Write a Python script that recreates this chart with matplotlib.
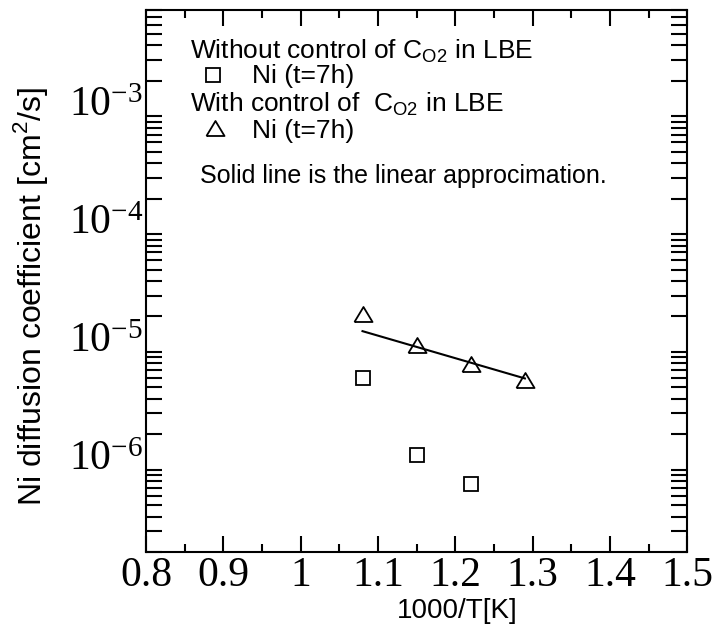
import numpy as np
import matplotlib
matplotlib.use('Agg')
import matplotlib.pyplot as plt
from matplotlib.ticker import LogLocator, MultipleLocator, NullFormatter

# data
x_no = [1.08, 1.15, 1.22]
d_no = [6.05e-6, 1.33e-6, 7.6e-7]
x_ctrl = [1.08, 1.15, 1.22, 1.29]
d_ctrl = [2.09e-5, 1.15e-5, 7.96e-6, 5.8e-6]
fit_x = [1.08, 1.29]
fit_d = [1.50e-5, 5.95e-6]

xticks = [0.8, 0.9, 1.0, 1.1, 1.2, 1.3, 1.4, 1.5]
xticklabels = ['0.8', '0.9', '1', '1.1', '1.2', '1.3', '1.4', '1.5']
yticks = [1e-6, 1e-5, 1e-4, 1e-3]
yticklabels = [r'$\mathregular{10^{-6}}$', r'$\mathregular{10^{-5}}$',
               r'$\mathregular{10^{-4}}$', r'$\mathregular{10^{-3}}$']

sans = 'Liberation Sans'
serif = 'Liberation Serif'

tri = [(-1, -0.83), (1, -0.83), (0, 0.83), (-1, -0.83)]

fig = plt.figure(figsize=(7.16, 6.36), dpi=100)
ax = fig.add_axes([0.2039, 0.1321, 0.7560, 0.8522])

ax.plot(fit_x, fit_d, '-', color='black', lw=1.5)
ax.plot(x_no, d_no, ls='none', marker='s', ms=10.5, mfc='white', mec='black', mew=1.3)
ax.plot(x_ctrl, d_ctrl, ls='none', marker=tri, ms=13, mfc='none', mec='black', mew=1.3)

ax.set_yscale('log')
ax.set_xlim(0.8, 1.5)
ax.set_ylim(2e-7, 8e-3)

ax.set_xticks(xticks, xticklabels, fontfamily=serif, fontsize=30)
ax.xaxis.set_minor_locator(MultipleLocator(0.05))
ax.set_yticks(yticks, yticklabels, fontfamily=serif, fontsize=30)
ax.yaxis.set_minor_locator(LogLocator(base=10, subs=[2, 3, 4, 5, 6, 7, 8, 9], numticks=20))
ax.yaxis.set_minor_formatter(NullFormatter())
for t in ax.yaxis.get_major_ticks():
    t.label1.set_va('baseline')

ax.tick_params(axis='both', which='both', direction='in', top=True, right=True, width=1.5)
ax.tick_params(axis='x', which='major', length=11.5, pad=3)
ax.tick_params(axis='x', which='minor', length=5.8)
ax.tick_params(axis='y', which='both', length=11.5, pad=2)
for s in ax.spines.values():
    s.set_linewidth(1.5)

ax.set_xlabel('1000/T[K]', fontfamily=sans, fontsize=20)
ax.xaxis.set_label_coords(0.575, -0.085)
ax.set_ylabel(r'Ni diffusion coefficient [cm$^\mathregular{2}$/s]', fontfamily=sans, fontsize=23)
ax.yaxis.set_label_coords(-0.178, 0.472)

# legend block
tkw = dict(transform=ax.transAxes, fontfamily=sans, fontsize=19, va='baseline', ha='left')
ax.text(0.0813, 0.9114, r'Without control of C$_\mathregular{O2}$ in LBE', **tkw)
ax.text(0.1953, 0.8648, 'Ni (t=7h)', **tkw)
ax.text(0.0813, 0.8124, r'With control of  C$_\mathregular{O2}$ in LBE', **tkw)
ax.text(0.1953, 0.7633, 'Ni (t=7h)', **tkw)
ax.plot([0.1238], [0.880], transform=ax.transAxes, marker='s', ms=10.5,
        mfc='white', mec='black', mew=1.3, ls='none')
ax.plot([0.1275], [0.7817], transform=ax.transAxes, marker=tri, ms=13,
        mfc='none', mec='black', mew=1.3, ls='none')
ax.text(0.0998, 0.681, 'Solid line is the linear approcimation.',
        transform=ax.transAxes, fontfamily=sans, fontsize=18, va='baseline', ha='left')

fig.savefig('out.png', dpi=100)
